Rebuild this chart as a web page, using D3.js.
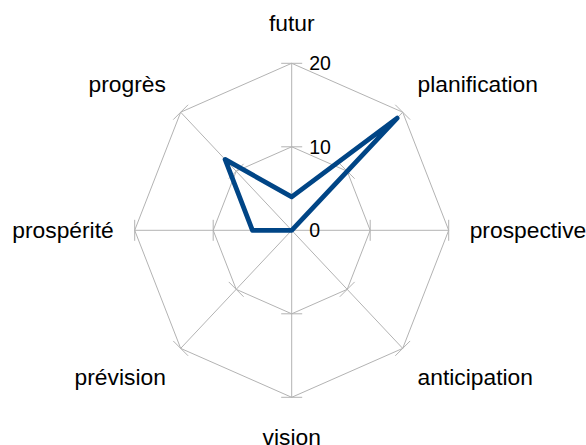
<!DOCTYPE html>
<head>
    <meta http-equiv="Content-Type" content="text/html; charset=utf-8">
    <title>Radar</title>
    <script src="https://d3js.org/d3.v7.min.js"></script>
</head>
<style>
body { margin: 0; background: #fff; }
text {
  font-family: "Liberation Sans", Arial, sans-serif;
  fill: #000;
}
.grid {
  fill: none;
  stroke: #b3b3b3;
  stroke-width: 1px;
}
.serie {
  fill: none;
  stroke: #004586;
  stroke-width: 4.8px;
  stroke-linejoin: round;
}
</style>
<body>
<svg width="586" height="445"></svg>
<script>
var categories = ["futur", "planification", "prospective", "anticipation",
                  "vision", "prévision", "prospérité", "progrès"];
var values = [4, 19, 0, 0, 0, 0, 5, 12];
var ticks = [0, 10, 20];

var svg = d3.select("svg"),
    cx = 291.7,
    cy = 230.3;

// the plot area is a bit wider than tall in the original
var rx = d3.scaleLinear().domain([0, 20]).range([0, 157]),
    ry = d3.scaleLinear().domain([0, 20]).range([0, 167]);

var angle = d3.scaleBand().domain(categories).range([0, 2 * Math.PI]).align(0);

function pt(cat, v) {
  var a = angle(cat);
  return [cx + Math.sin(a) * rx(v), cy - Math.cos(a) * ry(v)];
}

var line = d3.line().curve(d3.curveLinearClosed);

// rings
svg.selectAll(".ring")
  .data(ticks.filter(function(t) { return t > 0; }))
  .enter().append("path")
    .attr("class", "grid")
    .attr("d", function(t) {
      return line(categories.map(function(c) { return pt(c, t); }));
    });

// spokes
svg.selectAll(".spoke")
  .data(categories)
  .enter().append("line")
    .attr("class", "grid")
    .attr("x1", cx).attr("y1", cy)
    .attr("x2", function(c) { return pt(c, 20)[0]; })
    .attr("y2", function(c) { return pt(c, 20)[1]; });

// little tick marks across each spoke
var tickData = [];
categories.forEach(function(c) {
  ticks.filter(function(t) { return t > 0; }).forEach(function(t) {
    tickData.push({cat: c, v: t});
  });
});
svg.selectAll(".tick")
  .data(tickData)
  .enter().append("line")
    .attr("class", "grid")
    .each(function(d) {
      var p = pt(d.cat, d.v), a = angle(d.cat), h = 10.5;
      d3.select(this)
        .attr("x1", p[0] - Math.cos(a) * h).attr("y1", p[1] - Math.sin(a) * h)
        .attr("x2", p[0] + Math.cos(a) * h).attr("y2", p[1] + Math.sin(a) * h);
    });

// value axis labels
svg.selectAll(".tlabel")
  .data(ticks)
  .enter().append("text")
    .attr("x", cx + 17.5)
    .attr("y", function(t) { return cy - ry(t); })
    .attr("dy", "0.35em")
    .style("font-size", "19.5px")
    .text(function(t) { return t; });

// category labels
svg.selectAll(".clabel")
  .data(categories)
  .enter().append("text")
    .style("font-size", "22.8px")
    .attr("dy", "0.35em")
    .attr("text-anchor", function(c) {
      var s = Math.sin(angle(c));
      return s > 0.1 ? "start" : (s < -0.1 ? "end" : "middle");
    })
    .attr("x", function(c) {
      var s = Math.sin(angle(c));
      return Math.abs(s) > 0.1 ? cx + s * 178 : cx;
    })
    .attr("y", function(c) { return cy - Math.cos(angle(c)) * 207; })
    .text(function(c) { return c; });

// data
svg.append("path")
  .attr("class", "serie")
  .attr("d", line(categories.map(function(c, i) { return pt(c, values[i]); })));
</script>
</body>
